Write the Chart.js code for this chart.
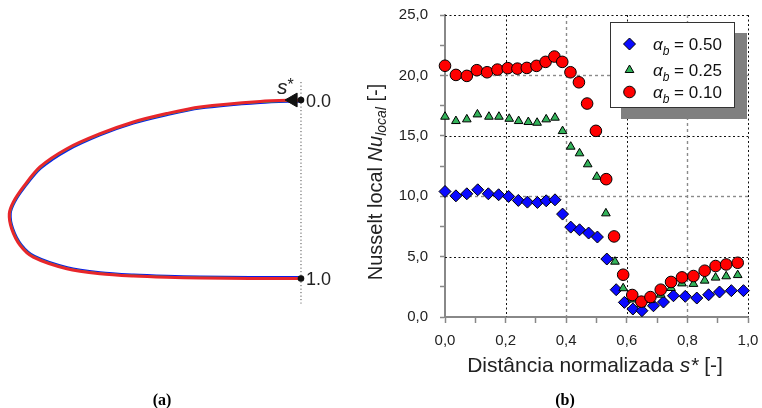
<!DOCTYPE html>
<html><head><meta charset="utf-8">
<script src="https://cdn.jsdelivr.net/npm/chart.js@4.4.1/dist/chart.umd.min.js"></script>
<style>
html,body{margin:0;padding:0;background:#fff;}
#wrap{position:relative;width:762px;height:408px;background:#fff;}
canvas{position:absolute;left:0;top:0;}
</style></head><body>
<div id="wrap"><canvas id="ca" width="762" height="408"></canvas><canvas id="cb" width="762" height="408"></canvas></div>
<script>
// ---------- Panel (b) data ----------
const seriesLabels = ['0.50', '0.25', '0.10'];
const xBlue  = [0, 0.036, 0.072, 0.108, 0.143, 0.177, 0.21, 0.242, 0.272, 0.305, 0.334, 0.363, 0.388, 0.415, 0.444, 0.474, 0.503, 0.534, 0.565, 0.592, 0.62, 0.65, 0.688, 0.721, 0.754, 0.793, 0.831, 0.87, 0.906, 0.945, 0.985];
const nuBlue = [10.39, 10.03, 10.2, 10.53, 10.2, 10.12, 9.98, 9.65, 9.51, 9.48, 9.62, 9.7, 8.52, 7.44, 7.22, 6.95, 6.62, 4.8, 2.26, 1.21, 0.66, 0.52, 0.93, 1.24, 1.76, 1.71, 1.57, 1.84, 2.07, 2.18, 2.18];
const xGreen  = [0, 0.036, 0.072, 0.107, 0.145, 0.178, 0.212, 0.243, 0.275, 0.304, 0.334, 0.363, 0.388, 0.415, 0.444, 0.471, 0.501, 0.531, 0.561, 0.588, 0.618, 0.648, 0.678, 0.712, 0.746, 0.782, 0.82, 0.857, 0.893, 0.928, 0.966];
const nuGreen = [16.58, 16.22, 16.36, 16.77, 16.58, 16.58, 16.41, 16.22, 16.14, 16.08, 16.36, 16.5, 15.39, 14.1, 13.55, 12.64, 11.61, 8.58, 4.58, 2.38, 1.45, 1.1, 1.4, 1.85, 2.4, 2.78, 2.74, 3.01, 3.26, 3.37, 3.47];
const xRed  = [0, 0.036, 0.072, 0.105, 0.139, 0.173, 0.207, 0.239, 0.27, 0.302, 0.332, 0.361, 0.387, 0.414, 0.442, 0.469, 0.498, 0.532, 0.558, 0.588, 0.618, 0.648, 0.678, 0.712, 0.746, 0.782, 0.82, 0.857, 0.893, 0.928, 0.966];
const nuRed = [20.8, 20.04, 19.96, 20.43, 20.26, 20.48, 20.6, 20.56, 20.62, 20.79, 21.12, 21.56, 21.12, 20.26, 19.43, 17.67, 15.41, 11.41, 6.67, 3.5, 1.82, 1.27, 1.65, 2.26, 2.9, 3.28, 3.39, 3.83, 4.22, 4.35, 4.49];
const xTickValues = [0, 0.2, 0.4, 0.6, 0.8, 1.0];
const xTickLabels = ['0,0', '0,2', '0,4', '0,6', '0,8', '1,0'];
const yTickValues = [0, 5, 10, 15, 20, 25];
const yTickLabels = ['0,0', '5,0', '10,0', '15,0', '20,0', '25,0'];

// ---------- Panel (a) data (shape outline, normalized) ----------
const shapeXRed   = [0, -0.140, -0.346, -0.460, -0.574, -0.688, -0.802, -0.894, -0.951, -0.985, -0.999, -0.991, -0.962, -0.917, -0.802, -0.688, -0.574, -0.460, -0.346, -0.175, 0];
const shapeYRed   = [0, 0.008, 0.039, 0.076, 0.123, 0.189, 0.273, 0.375, 0.487, 0.571, 0.637, 0.721, 0.814, 0.880, 0.945, 0.973, 0.986, 0.993, 0.997, 1.0, 1.0];
const shapeXGreen = [0, -0.140, -0.346, -0.460, -0.574, -0.688, -0.801, -0.892, -0.948, -0.982, -0.996, -0.988, -0.959, -0.914, -0.801, -0.688, -0.574, -0.460, -0.346, -0.175, 0];
const shapeYGreen = [0.004, 0.013, 0.044, 0.081, 0.128, 0.194, 0.278, 0.379, 0.488, 0.572, 0.637, 0.720, 0.812, 0.877, 0.941, 0.969, 0.982, 0.989, 0.993, 0.996, 0.996];
const shapeXBlue  = [0, -0.140, -0.346, -0.460, -0.574, -0.688, -0.800, -0.890, -0.946, -0.980, -0.994, -0.986, -0.957, -0.912, -0.800, -0.688, -0.574, -0.460, -0.346, -0.175, 0];
const shapeYBlue  = [0.008, 0.017, 0.048, 0.085, 0.132, 0.198, 0.283, 0.383, 0.490, 0.573, 0.637, 0.719, 0.810, 0.874, 0.937, 0.965, 0.978, 0.985, 0.989, 0.992, 0.992];
const endLabels = ['0.0', '1.0'];
const endPositions = [0, 1];

const pts = (xs, ys) => xs.map((x, i) => ({x, y: ys[i]}));
const FONT = '"Liberation Sans", Arial, sans-serif';

function richText(ctx, parts, x, y, align) {
  let w = 0;
  parts.forEach(p => { ctx.font = p.font; p.w = ctx.measureText(p.t).width; w += p.w; });
  let cx = align === 'center' ? x - w / 2 : x;
  ctx.textAlign = 'left';
  ctx.textBaseline = 'alphabetic';
  parts.forEach(p => { ctx.font = p.font; ctx.fillText(p.t, cx, y + (p.dy || 0)); cx += p.w; });
}

function marker(ctx, style, r, fill, x, y) {
  ctx.save();
  ctx.fillStyle = fill; ctx.strokeStyle = '#000'; ctx.lineWidth = 1;
  if (Chart.helpers && Chart.helpers.drawPoint) {
    ctx.beginPath();
    Chart.helpers.drawPoint(ctx, {pointStyle: style, radius: r, rotation: 0, borderWidth: 1}, x, y);
  }
  ctx.restore();
}

// ---------- Panel (a) chart ----------
const panelAPlugin = {
  id: 'panelA',
  afterDraw(chart) {
    const {ctx, scales: {x, y}} = chart;
    ctx.save();
    ctx.fillStyle = '#222';
    const lx = x.getPixelForValue(0) + 5;
    endLabels.forEach((t, i) => {
      ctx.font = '18px ' + FONT;
      ctx.textAlign = 'left'; ctx.textBaseline = 'middle';
      ctx.fillText(t, lx, y.getPixelForValue(endPositions[i]) + 2);
    });
    richText(ctx, [
      {t: 's', font: 'italic 21px ' + FONT},
      {t: '*', font: '16px ' + FONT, dy: -4}
    ], x.getPixelForValue(0) - 24, y.getPixelForValue(0) - 6, 'left');
    ctx.fillStyle = '#000';
    ctx.font = 'bold 16px "Liberation Serif", "Times New Roman", serif';
    ctx.textAlign = 'center'; ctx.textBaseline = 'alphabetic';
    ctx.fillText('(a)', 162, 405);
    ctx.restore();
  }
};

new Chart(document.getElementById('ca'), {
  type: 'scatter',
  data: {
    datasets: [
      {data: [{x: -0.027, y: 0}], pointStyle: 'triangle', rotation: -90, pointRadius: 8, backgroundColor: '#111', borderColor: '#111', borderWidth: 1, order: 0},
      {data: pts([0, 0], endPositions), pointRadius: 3.3, backgroundColor: '#111', borderColor: '#111', borderWidth: 0, order: 1},
      {data: pts(shapeXRed, shapeYRed), showLine: true, tension: 0.3, borderColor: '#e8262b', borderWidth: 3, pointRadius: 0, order: 2},
      {data: pts(shapeXGreen, shapeYGreen), showLine: true, tension: 0.3, borderColor: '#2eae4e', borderWidth: 1.6, pointRadius: 0, order: 3},
      {data: pts(shapeXBlue, shapeYBlue), showLine: true, tension: 0.3, borderColor: '#0a1ee8', borderWidth: 2, pointRadius: 0, order: 4},
      {data: [{x: 0, y: -0.10}, {x: 0, y: 1.14}], showLine: true, borderColor: '#333', borderWidth: 1, borderDash: [1, 2.5], pointRadius: 0, order: 5}
    ]
  },
  options: {
    responsive: false, animation: false, devicePixelRatio: 1,
    layout: {padding: 0, autoPadding: false},
    plugins: {legend: {display: false}, tooltip: {enabled: false}},
    scales: {
      x: {type: 'linear', display: false, min: -1.0308, max: 1.5788},
      y: {type: 'linear', display: false, reverse: true, min: -0.5602, max: 1.7255}
    },
    elements: {line: {capBezierPoints: false}}
  },
  plugins: [panelAPlugin]
});

// ---------- Panel (b) chart ----------
const GRID_GRAY_X = [0.4, 0.8], GRID_GRAY_Y = [10, 20];
const panelBPlugin = {
  id: 'panelB',
  beforeDatasetsDraw(chart) {
    const {ctx, chartArea: a, scales: {x, y}} = chart;
    ctx.save();
    xTickValues.forEach(v => {
      if (v === 0) return;
      const gray = GRID_GRAY_X.includes(v);
      const px = Math.round(x.getPixelForValue(v)) + 0.5;
      ctx.beginPath();
      ctx.strokeStyle = gray ? '#8a8a8a' : '#111';
      ctx.lineWidth = gray ? 1.4 : 1;
      ctx.setLineDash(gray ? [3, 3] : [2, 2.5]);
      ctx.moveTo(px, a.top); ctx.lineTo(px, a.bottom); ctx.stroke();
    });
    yTickValues.forEach(v => {
      if (v === 0) return;
      const gray = GRID_GRAY_Y.includes(v);
      const py = Math.round(y.getPixelForValue(v)) + 0.5;
      ctx.beginPath();
      ctx.strokeStyle = gray ? '#8a8a8a' : '#111';
      ctx.lineWidth = gray ? 1.4 : 1;
      ctx.setLineDash(gray ? [3, 3] : [2, 2.5]);
      ctx.moveTo(a.left, py); ctx.lineTo(a.right, py); ctx.stroke();
    });
    ctx.restore();
  },
  afterDraw(chart) {
    const {ctx} = chart;
    ctx.save();
    ctx.fillStyle = '#222';
    // x title
    richText(ctx, [
      {t: 'Distância normalizada ', font: '21px ' + FONT},
      {t: 's*', font: 'italic 21px ' + FONT},
      {t: ' [-]', font: '21px ' + FONT}
    ], 595, 372, 'center');
    // y title
    ctx.save();
    ctx.translate(382, 182);
    ctx.rotate(-Math.PI / 2);
    richText(ctx, [
      {t: 'Nusselt local ', font: '20px ' + FONT},
      {t: 'Nu', font: 'italic 20px ' + FONT},
      {t: 'local', font: 'italic 14px ' + FONT, dy: 4},
      {t: ' [-]', font: '20px ' + FONT}
    ], 0, 0, 'center');
    ctx.restore();
    // legend
    ctx.fillStyle = '#808080';
    ctx.fillRect(621, 33, 126, 86);
    ctx.fillStyle = '#fff';
    ctx.fillRect(610, 22, 124, 85);
    ctx.strokeStyle = '#333'; ctx.lineWidth = 1;
    ctx.strokeRect(610.5, 22.5, 124, 85);
    const rows = [
      {style: 'rectRot', r: 6, fill: '#0a0aff', y: 44},
      {style: 'triangle', r: 5, fill: '#33b35a', y: 70},
      {style: 'circle', r: 5.8, fill: '#ff0000', y: 92}
    ];
    rows.forEach((rw, i) => {
      marker(ctx, rw.style, rw.r, rw.fill, 629.5, rw.y);
      ctx.fillStyle = '#111';
      richText(ctx, [
        {t: 'α', font: 'italic 17px ' + FONT},
        {t: 'b', font: 'italic 12px ' + FONT, dy: 5},
        {t: ' = ' + seriesLabels[i], font: '17px ' + FONT}
      ], 653, rw.y + 6, 'left');
    });
    ctx.fillStyle = '#000';
    ctx.font = 'bold 16px "Liberation Serif", "Times New Roman", serif';
    ctx.textAlign = 'center'; ctx.textBaseline = 'alphabetic';
    ctx.fillText('(b)', 565, 405);
    ctx.restore();
  }
};

new Chart(document.getElementById('cb'), {
  type: 'scatter',
  data: {
    datasets: [
      {label: 'αb = ' + seriesLabels[0], data: pts(xBlue, nuBlue), pointStyle: 'rectRot', pointRadius: 6, backgroundColor: '#0a0aff', borderColor: '#000', borderWidth: 1, order: 3, clip: false},
      {label: 'αb = ' + seriesLabels[1], data: pts(xGreen, nuGreen), pointStyle: 'triangle', pointRadius: 5, backgroundColor: '#33b35a', borderColor: '#000', borderWidth: 1, order: 2, clip: false},
      {label: 'αb = ' + seriesLabels[2], data: pts(xRed, nuRed), pointStyle: 'circle', pointRadius: 5.8, backgroundColor: '#ff0000', borderColor: '#000', borderWidth: 1, order: 1, clip: false}
    ]
  },
  options: {
    responsive: false, animation: false, devicePixelRatio: 1,
    layout: {padding: {left: 360, right: 14, top: 15, bottom: 0}, autoPadding: false},
    plugins: {legend: {display: false}, tooltip: {enabled: false}},
    scales: {
      x: {
        type: 'linear', min: 0, max: 1,
        afterFit: s => { s.height = 91; s.paddingLeft = 0; s.paddingRight = 0; },
        ticks: {
          stepSize: 0.1, autoSkip: false, maxRotation: 0, padding: 9, color: '#222',
          font: {family: FONT, size: 15},
          callback: v => { const i = xTickValues.findIndex(t => Math.abs(t - v) < 1e-6); return i >= 0 ? xTickLabels[i] : ''; }
        },
        grid: {drawOnChartArea: false, drawTicks: true, tickLength: 6, tickColor: '#888', tickWidth: 1.5},
        border: {display: true, color: '#888', width: 2}
      },
      y: {
        type: 'linear', min: 0, max: 25,
        afterFit: s => { s.width = 85; s.paddingTop = 0; s.paddingBottom = 0; },
        ticks: {
          stepSize: 2.5, autoSkip: false, padding: 12, color: '#222',
          font: {family: FONT, size: 15},
          callback: v => { const i = yTickValues.findIndex(t => Math.abs(t - v) < 1e-6); return i >= 0 ? yTickLabels[i] : ''; }
        },
        grid: {drawOnChartArea: false, drawTicks: true, tickLength: 5, tickColor: '#888', tickWidth: 1.5},
        border: {display: true, color: '#888', width: 2}
      }
    }
  },
  plugins: [panelBPlugin]
});
</script>
</body></html>
